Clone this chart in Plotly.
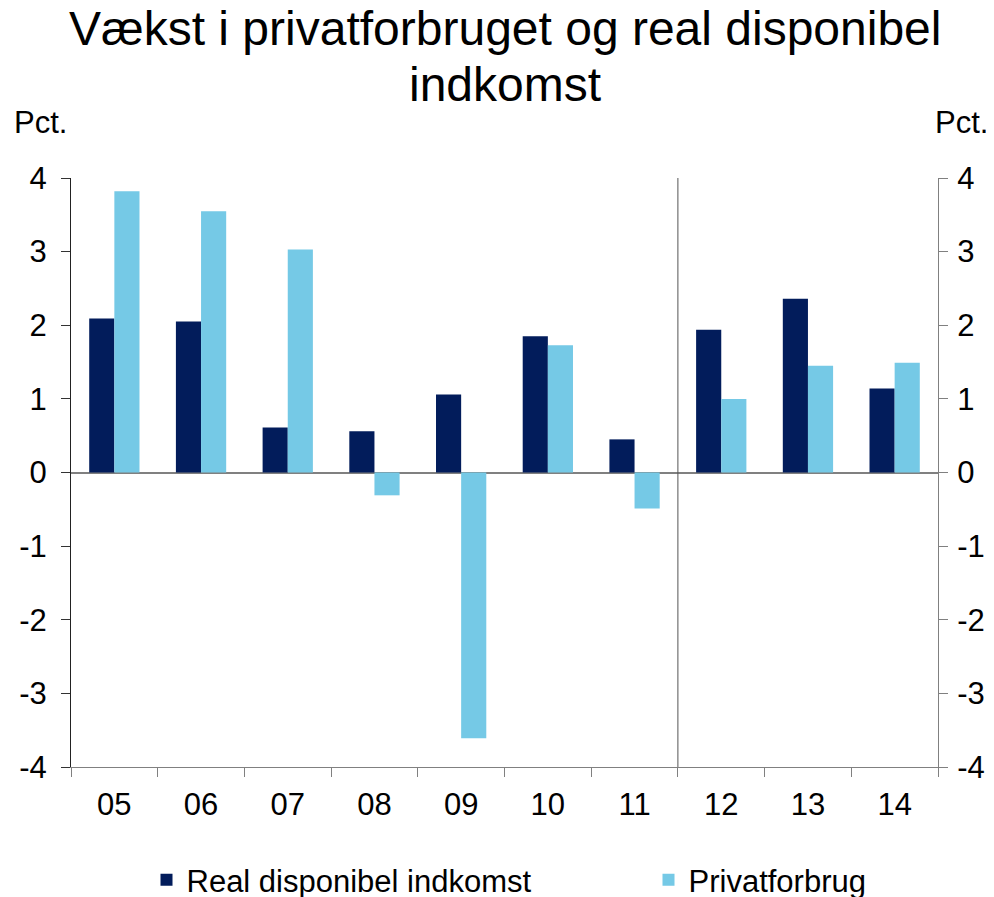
import plotly.graph_objects as go

years = ["05", "06", "07", "08", "09", "10", "11", "12", "13", "14"]
real_disp = [2.09, 2.05, 0.61, 0.56, 1.06, 1.85, 0.45, 1.94, 2.36, 1.14]
privat = [3.82, 3.55, 3.03, -0.31, -3.61, 1.73, -0.49, 1.00, 1.45, 1.49]
yticks = [-4, -3, -2, -1, 0, 1, 2, 3, 4]
yticktext = ["-4", "-3", "-2", "-1", "0", "1", "2", "3", "4"]

FONT = "Liberation Sans, Arial, sans-serif"
DARK = "#021C5B"
LIGHT = "#75C9E6"
FS = 31

# page body has an 8px margin; figure coordinates = screen - 8
W, H = 978, 889
PL, PR, PT, PB = 63, 930, 170, 759
def py(p):
    return (PB - p) / (PB - PT)
def px(p):
    return (p - PL) / (PR - PL)

fig = go.Figure()
fig.add_trace(go.Bar(x=years, y=real_disp, name="Real disponibel indkomst",
                     marker=dict(color=DARK, line=dict(width=0)), legend="legend"))
fig.add_trace(go.Bar(x=years, y=privat, name="Privatforbrug",
                     marker=dict(color=LIGHT, line=dict(width=0)), legend="legend2"))
fig.add_trace(go.Scatter(x=years, y=[None]*len(years), yaxis="y2",
                         showlegend=False, hoverinfo="skip"))

fig.add_shape(type="line", xref="x", yref="y", x0=6.5, x1=6.5, y0=-4, y1=4,
              line=dict(color="#555555", width=1))

legend_common = dict(orientation="h", yanchor="middle", y=py(872),
                     font=dict(size=FS), itemclick=False, xanchor="left",
                     bgcolor="rgba(0,0,0,0)")

fig.update_layout(
    width=W, height=H,
    margin=dict(l=PL, r=W - PR, t=PT, b=H - PB, autoexpand=False),
    paper_bgcolor="white", plot_bgcolor="white",
    font=dict(family=FONT, size=FS, color="black"),
    barmode="group", bargap=0.42, bargroupgap=0,
    xaxis=dict(type="category", range=[-0.5, len(years) - 0.5],
               tickson="boundaries", ticks="outside",
               ticklen=9, tickcolor="#808080", showline=True, linecolor="#808080",
               linewidth=1, showgrid=False, zeroline=False,
               tickfont=dict(size=FS), ticklabelstandoff=10),
    yaxis=dict(range=[-4, 4], tickvals=yticks, ticktext=yticktext, ticks="outside",
               ticklen=9, tickcolor="#333333", showline=True, linecolor="#222222",
               linewidth=1, showgrid=False, zeroline=True, zerolinecolor="#808080",
               zerolinewidth=1.5, tickfont=dict(size=FS), ticklabelstandoff=8),
    yaxis2=dict(range=[-4, 4], tickvals=yticks, ticktext=yticktext, overlaying="y",
                side="right", ticks="outside", ticklen=9, tickcolor="#808080",
                showline=True, linecolor="#808080", linewidth=1, showgrid=False,
                zeroline=False, tickfont=dict(size=FS), ticklabelstandoff=3),
    legend=dict(legend_common, x=px(138.5)),
    legend2=dict(legend_common, x=px(640.5)),
    annotations=[
        dict(text="Vækst i privatforbruget og real disponibel", xref="paper", yref="paper",
             x=0.5, y=py(21), xanchor="center", yanchor="middle", showarrow=False,
             font=dict(size=48)),
        dict(text="indkomst", xref="paper", yref="paper",
             x=0.5, y=py(76), xanchor="center", yanchor="middle", showarrow=False,
             font=dict(size=48)),
        dict(text="Pct.", xref="paper", yref="paper", x=px(4), y=py(114),
             xanchor="left", yanchor="middle", showarrow=False, font=dict(size=FS)),
        dict(text="Pct.", xref="paper", yref="paper", x=px(982), y=py(114),
             xanchor="right", yanchor="middle", showarrow=False, font=dict(size=FS)),
    ],
)

fig.write_html("out.html")
